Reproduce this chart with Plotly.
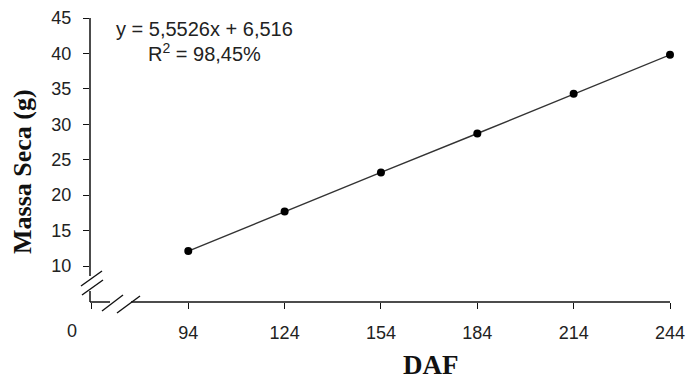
import plotly.graph_objects as go

# Data
days = ["94", "124", "154", "184", "214", "244"]
massa = [12.1, 17.7, 23.2, 28.7, 34.3, 39.8]
y_ticks = [10, 15, 20, 25, 30, 35, 40, 45]
equation = "y = 5,5526x + 6,516"
r2_text = "R<sup>2</sup> = 98,45%"

x_idx = list(range(1, len(days) + 1))

W, H = 690, 381
L, R, T, B = 90, 20, 18, 79
PW = W - L - R
PH = H - T - B


def px(xp):
    return (xp - L) / PW


def py(yp):
    return (H - B - yp) / PH


fig = go.Figure()
fig.add_trace(go.Scatter(
    x=x_idx, y=massa, mode="lines+markers",
    line=dict(color="#333333", width=1.4),
    marker=dict(color="black", size=8),
    showlegend=False, cliponaxis=False,
))

line_c = "#111111"
shapes = []
# y axis line with break
shapes.append(dict(type="line", xref="paper", yref="paper", x0=0, x1=0,
                   y0=py(276), y1=1, line=dict(color=line_c, width=1.5)))
shapes.append(dict(type="line", xref="paper", yref="paper", x0=0, x1=0,
                   y0=0, y1=py(291), line=dict(color=line_c, width=1.5)))
# x axis line with break
shapes.append(dict(type="line", xref="paper", yref="paper", x0=0, x1=px(110),
                   y0=0, y1=0, line=dict(color=line_c, width=1.5)))
shapes.append(dict(type="line", xref="paper", yref="paper", x0=px(131), x1=1,
                   y0=0, y1=0, line=dict(color=line_c, width=1.5)))
# break slashes on y axis
for (x0, y0, x1, y1) in [(81, 286, 102, 271), (82, 295, 103, 280)]:
    shapes.append(dict(type="line", xref="paper", yref="paper",
                       x0=px(x0), y0=py(y0), x1=px(x1), y1=py(y1),
                       line=dict(color=line_c, width=1.4)))
# break slashes on x axis
for (x0, y0, x1, y1) in [(102, 311, 123, 295), (117, 313, 140, 296)]:
    shapes.append(dict(type="line", xref="paper", yref="paper",
                       x0=px(x0), y0=py(y0), x1=px(x1), y1=py(y1),
                       line=dict(color=line_c, width=1.4)))

annotations = [
    dict(text=equation, xref="paper", yref="paper", x=px(204), y=py(29),
         showarrow=False, font=dict(family="Liberation Sans", size=20, color="#222222"),
         xanchor="center", yanchor="middle"),
    dict(text=r2_text, xref="paper", yref="paper", x=px(204), y=py(53),
         showarrow=False, font=dict(family="Liberation Sans", size=20, color="#222222"),
         xanchor="center", yanchor="middle"),
    dict(text="0", xref="paper", yref="paper", x=px(72), y=py(331),
         showarrow=False, font=dict(family="Liberation Sans", size=18, color="#222222"),
         xanchor="center", yanchor="middle"),
    dict(text="<b>DAF</b>", xref="paper", yref="paper", x=px(431), y=py(365),
         showarrow=False, font=dict(family="Liberation Serif", size=27, color="#111111"),
         xanchor="center", yanchor="middle"),
    dict(text="<b>Massa Seca (g)</b>", xref="paper", yref="paper", x=px(23), y=py(172),
         showarrow=False, textangle=-90,
         font=dict(family="Liberation Serif", size=26, color="#111111"),
         xanchor="center", yanchor="middle"),
]

fig.update_layout(
    width=W, height=H,
    margin=dict(l=L, r=R, t=T, b=B, autoexpand=False),
    paper_bgcolor="white", plot_bgcolor="white",
    shapes=shapes, annotations=annotations,
    xaxis=dict(
        range=[-0.02, 6], tickmode="array",
        tickvals=[0] + x_idx, ticktext=[""] + days,
        ticks="outside", ticklen=6, tickwidth=1.4, tickcolor=line_c,
        showline=False, showgrid=False, zeroline=False, automargin=False,
        tickfont=dict(family="Liberation Sans", size=18, color="#222222"),
        ticklabelstandoff=8, fixedrange=True,
    ),
    yaxis=dict(
        range=[4.92, 45], tickmode="array", tickvals=y_ticks,
        ticks="outside", ticklen=6, tickwidth=1.4, tickcolor=line_c,
        showline=False, showgrid=False, zeroline=False, automargin=False,
        tickfont=dict(family="Liberation Sans", size=18, color="#222222"),
        ticklabelstandoff=8, fixedrange=True,
    ),
)

fig.write_html("out.html", config={"displayModeBar": False},
               post_script="document.body.style.margin='0px';document.body.style.overflow='hidden';")
